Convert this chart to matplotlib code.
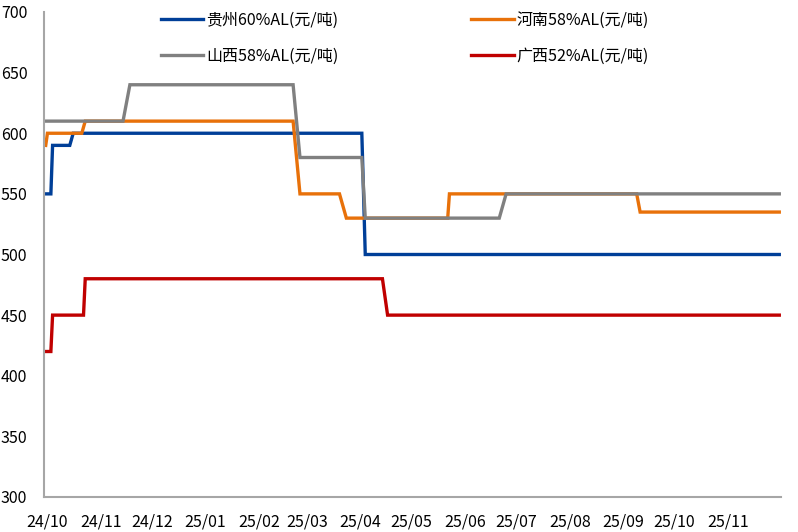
import pandas as pd
import matplotlib
matplotlib.use("Agg")
import matplotlib.pyplot as plt
import matplotlib.dates as mdates

plt.rcParams['font.family'] = ['Noto Sans CJK SC', 'DejaVu Sans']

# breakpoints of each price series (dates, yuan/ton)
gz_dates = ["2024-09-30", "2024-10-03", "2024-10-04", "2024-10-14", "2024-10-16",
            "2025-04-02", "2025-04-04", "2025-12-01"]
gz_vals = [550, 550, 590, 590, 600, 600, 500, 500]

hn_dates = ["2024-09-30", "2024-10-01", "2024-10-21", "2024-10-23", "2025-02-21",
            "2025-02-25", "2025-03-20", "2025-03-24", "2025-05-22", "2025-05-23",
            "2025-09-09", "2025-09-11", "2025-12-01"]
hn_vals = [590, 600, 600, 610, 610, 550, 550, 530, 530, 550, 550, 535, 535]

sx_dates = ["2024-09-30", "2024-11-14", "2024-11-18", "2025-02-21", "2025-02-25",
            "2025-04-02", "2025-04-04", "2025-06-21", "2025-06-25", "2025-12-01"]
sx_vals = [610, 610, 640, 640, 580, 580, 530, 530, 550, 550]

gx_dates = ["2024-09-30", "2024-10-03", "2024-10-04", "2024-10-22", "2024-10-23",
            "2025-04-14", "2025-04-17", "2025-12-01"]
gx_vals = [420, 420, 450, 450, 480, 480, 450, 450]

labels = ["贵州60%AL(元/吨)", "河南58%AL(元/吨)", "山西58%AL(元/吨)", "广西52%AL(元/吨)"]
colors = ["#003F98", "#E8710A", "#808080", "#C00000"]

fig = plt.figure(figsize=(7.98, 5.32), dpi=100)
ax = fig.add_axes([44 / 798, 1 - 497 / 532, (781 - 44) / 798, (497 - 12) / 532])

series = [(gz_dates, gz_vals), (hn_dates, hn_vals), (sx_dates, sx_vals), (gx_dates, gx_vals)]
for (d, v), lab, c in zip(series, labels, colors):
    ax.plot(pd.to_datetime(d), v, color=c, lw=2.4, label=lab, solid_joinstyle='miter')

ax.set_ylim(300, 700)
ax.set_yticks(range(300, 701, 50))
ax.set_xlim(pd.Timestamp("2024-09-29"), pd.Timestamp("2025-12-02"))
ax.xaxis.set_major_formatter(mdates.DateFormatter("%y/%m"))
ax.set_xticks(pd.date_range("2024-10-01", "2025-11-01", freq="MS"))

for s in ["top", "right"]:
    ax.spines[s].set_visible(False)
for s in ["left", "bottom"]:
    ax.spines[s].set_color("#A6A6A6")
    ax.spines[s].set_linewidth(1.5)
ax.tick_params(axis="both", length=0, labelsize=11.5, colors="#000000")
ax.tick_params(axis="y", pad=12)
ax.tick_params(axis="x", pad=12)

# legend order: row 1 贵州 / 河南, row 2 山西 / 广西
h, l = ax.get_legend_handles_labels()
order = [0, 2, 1, 3]
ax.legend([h[i] for i in order], [l[i] for i in order], ncol=2, loc="upper left",
          bbox_to_anchor=((163 - 44) / 737 - 0.003, 1.0), frameon=False,
          fontsize=11.5, handlelength=2.65, handletextpad=0.2,
          columnspacing=8.3, labelspacing=1.15, borderaxespad=0.0, borderpad=0.0)

fig.savefig("out.png", dpi=100)
